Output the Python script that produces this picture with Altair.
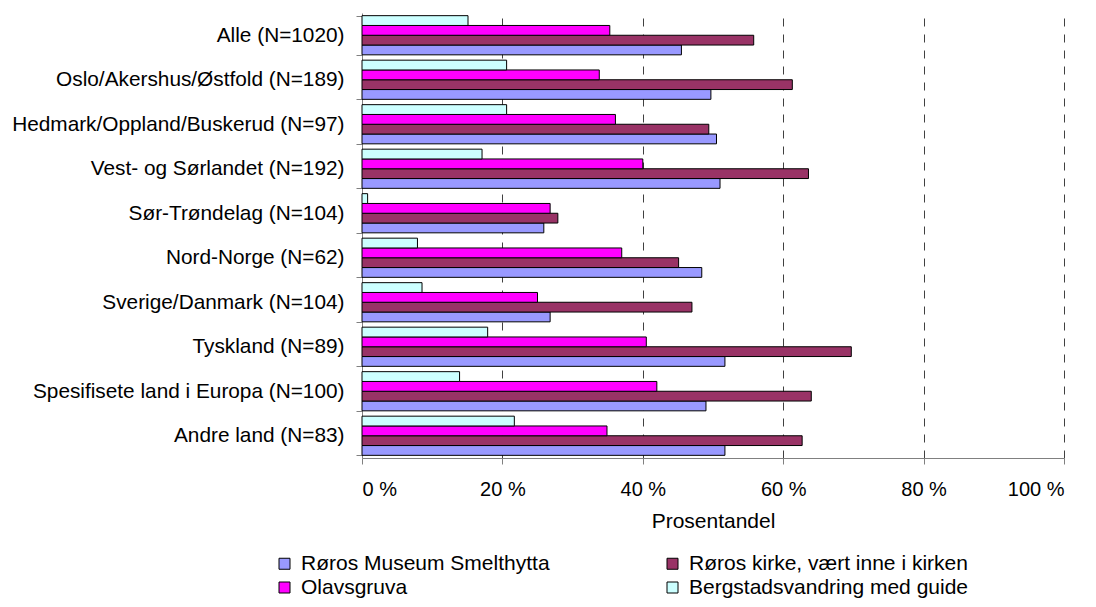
import altair as alt
import pandas as pd

categories = [
    "Alle (N=1020)",
    "Oslo/Akershus/Østfold (N=189)",
    "Hedmark/Oppland/Buskerud (N=97)",
    "Vest- og Sørlandet (N=192)",
    "Sør-Trøndelag (N=104)",
    "Nord-Norge (N=62)",
    "Sverige/Danmark (N=104)",
    "Tyskland (N=89)",
    "Spesifisete land i Europa (N=100)",
    "Andre land (N=83)",
]
series = [
    "Røros Museum Smelthytta",
    "Røros kirke, vært inne i kirken",
    "Olavsgruva",
    "Bergstadsvandring med guide",
]
museum = [45.5, 49.7, 50.5, 51.0, 25.9, 48.4, 26.8, 51.7, 49.0, 51.7]
kirke = [55.8, 61.3, 49.4, 63.6, 27.9, 45.1, 47.0, 69.7, 64.0, 62.7]
olav = [35.3, 33.8, 36.1, 40.0, 26.8, 37.0, 25.0, 40.5, 42.0, 34.9]
berg = [15.1, 20.6, 20.6, 17.1, 0.8, 7.9, 8.55, 17.9, 13.9, 21.7]
color_map = {
    "Røros Museum Smelthytta": "#9999FF",
    "Røros kirke, vært inne i kirken": "#993366",
    "Olavsgruva": "#FF00FF",
    "Bergstadsvandring med guide": "#CCFFFF",
}
x_ticks = [0, 20, 40, 60, 80, 100]

rows = []
for i, c in enumerate(categories):
    for s, vals in zip(series, [museum, kirke, olav, berg]):
        rows.append({"Kategori": c, "Serie": s, "Verdi": vals[i]})
df = pd.DataFrame(rows)

bar_order = [series[3], series[2], series[1], series[0]]
# legend is filled column by column: column 1 = Museum, Olavsgruva; column 2 = kirke, Bergstad
legend_order = [series[0], series[2], series[1], series[3]]
FONT = "Liberation Sans"

chart = alt.Chart(df).mark_bar(stroke="black", strokeWidth=1).encode(
    x=alt.X(
        "Verdi:Q",
        scale=alt.Scale(domain=[0, 100], nice=False, zero=True),
        axis=alt.Axis(
            values=x_ticks,
            title="Prosentandel",
            labelExpr="datum.value + ' %'",
            grid=True,
            gridDash=[8, 8],
            gridColor="#404040",
            gridOpacity={"condition": {"test": "datum.value === 0", "value": 0}, "value": 1},
            domainColor="#808080",
            tickColor="#808080",
            tickSize=6,
            labelFontSize=20,
            labelColor="black",
            labelPadding=15,
            titleFontSize=21,
            titleFontWeight="normal",
            titleColor="black",
            titlePadding=11,
        ),
    ),
    y=alt.Y(
        "Kategori:N",
        sort=categories,
        scale=alt.Scale(paddingInner=0.12, paddingOuter=0.06),
        axis=alt.Axis(
            title=None,
            tickBand="extent",
            domainColor="#808080",
            tickColor="#808080",
            tickSize=6,
            labelFontSize=20.8,
            labelColor="black",
            labelPadding=12,
            labelLimit=400,
        ),
    ),
    yOffset=alt.YOffset("Serie:N", sort=bar_order, scale=alt.Scale(paddingInner=0, paddingOuter=0)),
    color=alt.Color(
        "Serie:N",
        scale=alt.Scale(domain=legend_order, range=[color_map[s] for s in legend_order]),
        legend=alt.Legend(
            title=None,
            orient="none",
            legendX=-88,
            legendY=540,
            columns=2,
            symbolType="square",
            symbolSize=121,
            symbolStrokeColor="black",
            symbolStrokeWidth=1,
            labelFontSize=21,
            labelColor="black",
            labelOffset=6,
            labelLimit=400,
            columnPadding=112,
            rowPadding=2,
            padding=0,
        ),
    ),
).properties(
    width=702,
    height=445,
    padding={"left": 354, "top": 5, "right": 24, "bottom": 141},
    autosize=alt.AutoSizeParams(type="none"),
).configure(font=FONT).configure_view(stroke="transparent")

chart.save("out.html", embed_options={"renderer": "svg", "actions": False})
